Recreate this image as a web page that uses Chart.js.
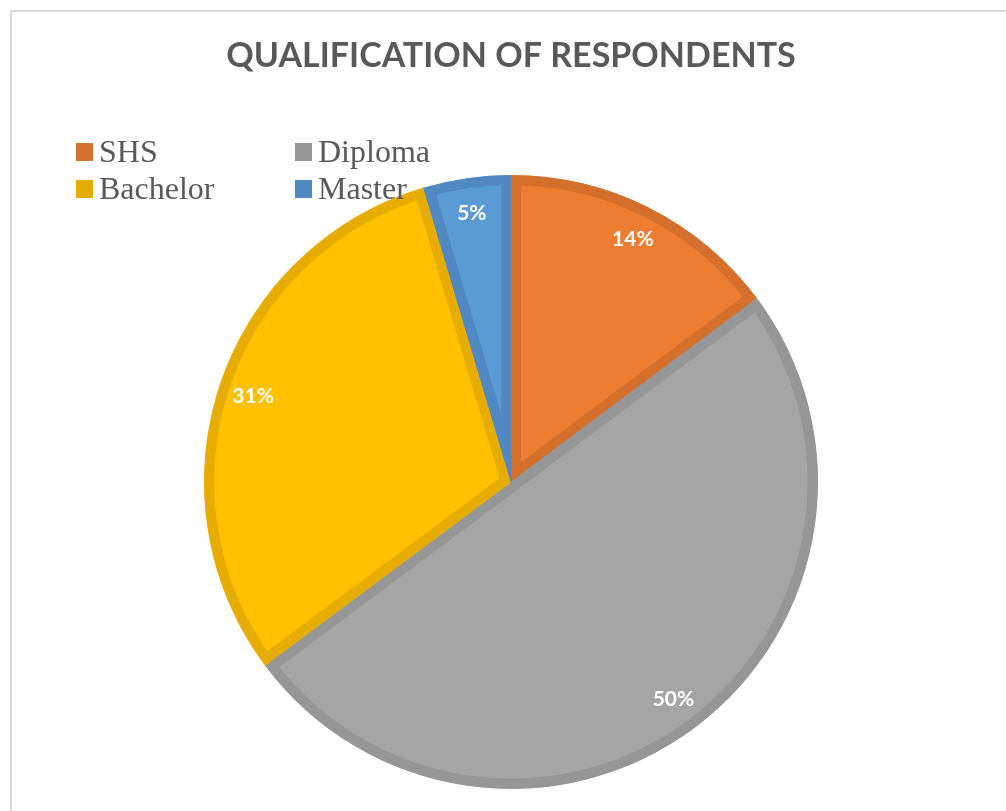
<!DOCTYPE html>
<html>
<head>
<meta charset="utf-8">
<script src="https://cdn.jsdelivr.net/npm/chart.js@4/dist/chart.umd.min.js"></script>
<style>
    html, body { margin: 0; padding: 0; background: #fff; }
    #wrap { position: relative; width: 1006px; height: 811px; overflow: hidden; }
    #frame { position: absolute; left: 10px; top: 10px; width: 1100px; height: 900px; border-left: 2px solid #d9d9d9; border-top: 2px solid #d9d9d9; }
    #chart { position: absolute; left: 0; top: 0; width: 1006px; height: 811px; }
    .legend-item { position: absolute; font-family: "Liberation Serif", "DejaVu Serif", serif; font-size: 32px; line-height: 32px; color: #595959; white-space: nowrap; }
    .legend-box { position: absolute; width: 17px; height: 18px; }
</style>
</head>
<body>
<div id="wrap">
    <div id="frame"></div>
    <div id="chart"><canvas id="pie"></canvas></div>
    <div id="legend"></div>
</div>
<script>
// data
const categories = ['SHS', 'Diploma', 'Bachelor', 'Master'];
const shares = [14.8, 50, 30.6, 4.6];
const shareLabels = ['14%', '50%', '31%', '5%'];
const chartTitle = 'QUALIFICATION OF RESPONDENTS';

// office-style palette, darker outline per slice
const fillColors = ['#ED7D31', '#A5A5A5', '#FFC000', '#5B9BD5'];
const edgeColors = ['#D5702C', '#969696', '#E6AD00', '#5089C1'];

function renderLegend() {
    const holder = document.getElementById('legend');
    const cols = [76, 295];
    const rows = [143, 180];
    holder.innerHTML = categories.map((name, i) => {
        const cx = cols[i % 2];
        const cy = rows[Math.floor(i / 2)];
        return `<div class="legend-box" style="left:${cx}px;top:${cy}px;background:${edgeColors[i]}"></div>
                <div class="legend-item" style="left:${cx + 23}px;top:${cy - 8}px">${name}</div>`;
    }).join('');
}

const sliceLabels = {
    id: 'sliceLabels',
    afterDatasetsDraw(chart) {
        const ctx = chart.ctx;
        const meta = chart.getDatasetMeta(0);
        ctx.save();
        ctx.fillStyle = '#ffffff';
        ctx.font = 'bold 21px Lato, "Open Sans", sans-serif';
        ctx.textAlign = 'center';
        ctx.textBaseline = 'middle';
        meta.data.forEach((arc, i) => {
            const { x, y, startAngle, endAngle, outerRadius } = arc.getProps(['x', 'y', 'startAngle', 'endAngle', 'outerRadius'], true);
            const mid = (startAngle + endAngle) / 2;
            const r = outerRadius * 0.885;
            ctx.fillText(shareLabels[i], x + Math.cos(mid) * r, y + Math.sin(mid) * r);
        });
        ctx.restore();
    }
};

renderLegend();

new Chart(document.getElementById('pie'), {
    type: 'pie',
    data: {
        labels: categories,
        datasets: [{
            data: shares,
            backgroundColor: fillColors,
            borderColor: edgeColors,
            borderWidth: 10,
            borderAlign: 'inner',
            hoverOffset: 0,
            offset: 0
        }]
    },
    options: {
        responsive: true,
        maintainAspectRatio: false,
        animation: false,
        events: [],
        layout: { padding: { left: 204, right: 188, top: 0, bottom: 22 } },
        plugins: {
            legend: { display: false },
            tooltip: { enabled: false },
            title: {
                display: true,
                text: chartTitle,
                color: '#595959',
                font: { family: 'Lato, "Open Sans", sans-serif', size: 34, weight: 'bold', lineHeight: 1.2 },
                padding: { top: 36, bottom: 98 }
            }
        }
    },
    plugins: [sliceLabels]
});
</script>
</body>
</html>
